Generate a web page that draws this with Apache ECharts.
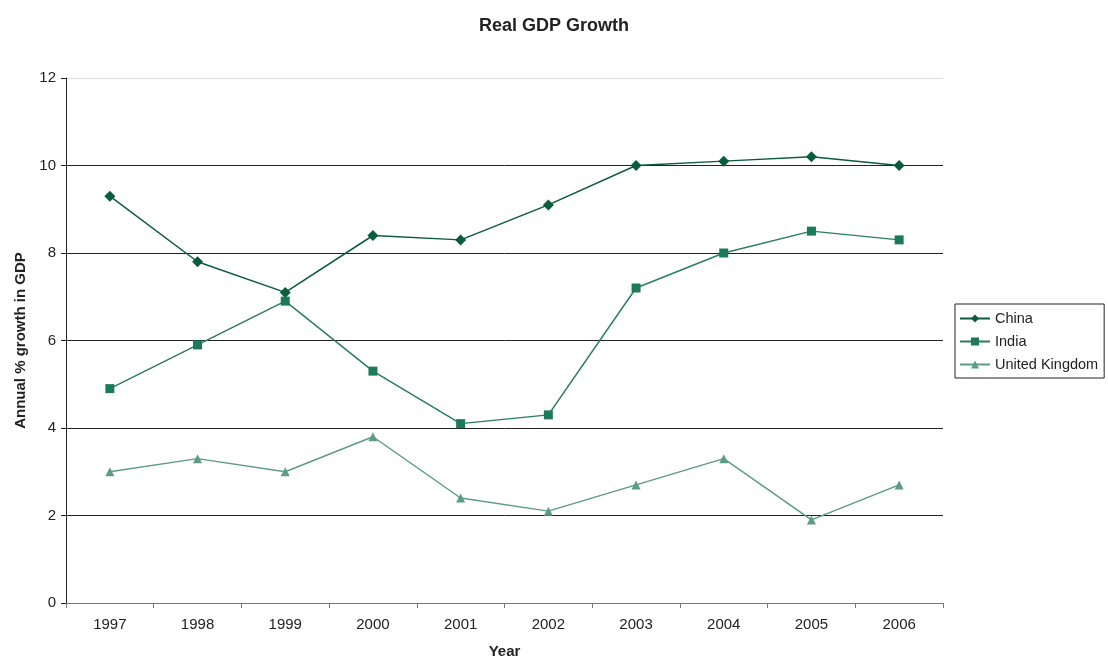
<!DOCTYPE html>
<html><head><meta charset="utf-8">
<script src="https://cdn.jsdelivr.net/npm/echarts@6/dist/echarts.min.js"></script>
<style>html,body{margin:0;padding:0;background:#fff}#c{width:1108px;height:658px}</style>
</head><body><div id="c"></div>
<script>
const years = ['1997','1998','1999','2000','2001','2002','2003','2004','2005','2006'];
const china = [9.3,7.8,7.1,8.4,8.3,9.1,10.0,10.1,10.2,10.0];
const india = [4.9,5.9,6.9,5.3,4.1,4.3,7.2,8.0,8.5,8.3];
const uk = [3.0,3.3,3.0,3.8,2.4,2.1,2.7,3.3,1.9,2.7];
const font = 'Liberation Sans, Arial, sans-serif';
const chart = echarts.init(document.getElementById('c'));
chart.setOption({
  animation:false,
  textStyle:{fontFamily:font},
  title:{text:'Real GDP Growth',left:'center',top:12,textStyle:{fontSize:18,fontWeight:'bold',color:'#222',fontFamily:font}},
  grid:{left:66,right:165,top:78,bottom:55,containLabel:false,outerBoundsMode:'none'},
  legend:{orient:'vertical',left:955,top:304,itemWidth:30,itemHeight:10,itemGap:8,padding:[7,6,6,4],
    borderColor:'#222',borderWidth:1,borderRadius:0,
    textStyle:{fontSize:14.5,color:'#222',fontFamily:font},
    data:['China','India','United Kingdom']},
  xAxis:{type:'category',data:years,boundaryGap:true,
    name:'Year',nameLocation:'middle',nameGap:41,nameTextStyle:{fontSize:15,fontWeight:'bold',color:'#222'},
    axisLine:{lineStyle:{color:'#777',width:1}},
    axisTick:{show:true,length:5,lineStyle:{color:'#777'}},
    axisLabel:{fontSize:15,color:'#222',margin:14}},
  yAxis:{type:'value',min:0,max:12,interval:2,
    name:'Annual % growth in GDP',nameLocation:'middle',nameGap:37,nameTextStyle:{fontSize:15,fontWeight:'bold',color:'#222'},
    axisLine:{show:true,lineStyle:{color:'#222',width:1}},
    axisTick:{show:true,length:5,lineStyle:{color:'#222'}},
    axisLabel:{fontSize:15,color:'#222',margin:10},
    splitLine:{show:true,lineStyle:{color:['#777','#222','#222','#222','#222','#222','#ddd'],width:1}}},
  series:[
    {name:'China',type:'line',data:china,symbol:'diamond',symbolSize:11,color:'#0a5c3c',lineStyle:{width:1.5,color:'#0a5c3c'},itemStyle:{color:'#0a5c3c'}},
    {name:'India',type:'line',data:india,symbol:'rect',symbolSize:9,color:'#1b7a58',lineStyle:{width:1.5,color:'#2a7d60'},itemStyle:{color:'#1b7a58'}},
    {name:'United Kingdom',type:'line',data:uk,symbol:'triangle',symbolSize:9,color:'#5d9c84',lineStyle:{width:1.5,color:'#5d9c84'},itemStyle:{color:'#5d9c84'}}
  ]
});
</script></body></html>
